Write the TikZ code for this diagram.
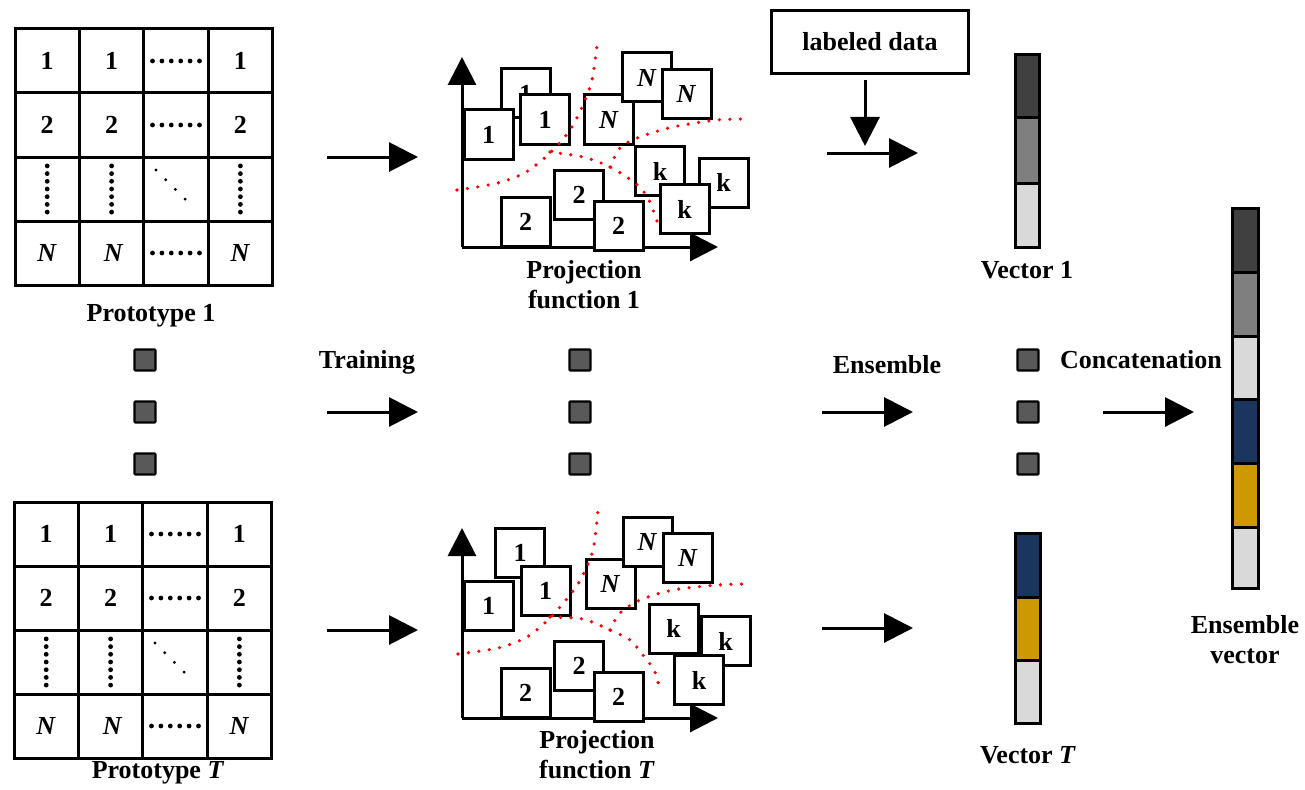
\documentclass[tikz,border=0pt]{standalone}
\usepackage{fontspec}
\setmainfont{Liberation Serif}
\usetikzlibrary{arrows.meta}
\definecolor{vdark}{HTML}{404040}
\definecolor{vmid}{HTML}{7F7F7F}
\definecolor{vlight}{HTML}{D9D9D9}
\definecolor{vnavy}{HTML}{1B365E}
\definecolor{vgold}{HTML}{CC9900}
\definecolor{sqgray}{HTML}{595959}
\definecolor{dotred}{HTML}{FF0000}
\tikzset{
  gridline/.style={line width=3pt},
  txt/.style={inner sep=0pt, align=center},
  pbox/.style={draw, fill=white, line width=3pt, minimum size=49pt, inner sep=0pt},
  sqbox/.style={draw, fill=sqgray, line width=2.2pt, minimum size=21pt, inner sep=0pt, rounded corners=1pt},
  arr/.style={line width=3pt, -{Triangle[length=29pt,width=29pt]}},
  axisarr/.style={line width=3pt, -{Triangle[length=28pt,width=28pt]}},
  reddots/.style={dotred, line width=3.6pt, line cap=round, dash pattern=on 0pt off 10.5pt},
  vseg/.style={draw, line width=3pt},
}
\newcommand\hdots[2]{\foreach \k in {-2.5,-1.5,-0.5,0.5,1.5,2.5} \fill (#1+\k*9.4,#2) circle (2.4pt);}
\newcommand\vdotsx[2]{\foreach \k in {-3,...,3} \fill (#1,#2+\k*7.7) circle (2.4pt);}
\newcommand\ddotsx[2]{\foreach \k in {0,1,2,3} \fill (#1-20+\k*9.7,#2-19+\k*9.7) circle (1.6pt);}
\newcommand\protogrid[3]{%
  \begin{scope}[shift={(#2,#3)}]
    \foreach \i in {1,2,3} {
      \draw[gridline] (\i*64.4,0) -- (\i*64.4,256);
      \draw[gridline] (0,\i*64) -- (257.6,\i*64);
    }
    \draw[gridline] (0,0) rectangle (257.6,256);
    \node[txt] (#1a1) at (32.2,32) {1};
    \node[txt] (#1a2) at (96.6,32) {1};
    \node[txt] (#1a4) at (225.4,32) {1};
    \node[txt] (#1b1) at (32.2,96) {2};
    \node[txt] (#1b2) at (96.6,96) {2};
    \node[txt] (#1b4) at (225.4,96) {2};
    \node[txt] (#1d1) at (32.2,224) {\textit{N}};
    \node[txt] (#1d2) at (98.6,224) {\textit{N}};
    \node[txt] (#1d4) at (225.4,224) {\textit{N}};
    \hdots{161}{32}
    \hdots{161}{96}
    \hdots{161}{224}
    \vdotsx{32.2}{160}
    \vdotsx{96.6}{160}
    \vdotsx{225.4}{160}
    \ddotsx{161}{160}
  \end{scope}}
\begin{document}
\begin{tikzpicture}[x=1pt,y=-1pt,font=\fontsize{26}{30}\selectfont\bfseries]
\useasboundingbox (0,0) rectangle (1305,789);

% ---------- prototype grids ----------
\protogrid{ga}{15}{29}
\protogrid{gb}{14}{502}
\node[txt] (proto1) at (151,316) {Prototype 1};
\node[txt] (protoT) at (158,773) {Prototype \textit{T}};

% ---------- middle squares ----------
\foreach \c/\x in {l/145,m/580,r/1028}
  \foreach \r/\y in {1/360,2/412,3/464}
    \node[sqbox] (sq\c\r) at (\x,\y) {};

% ---------- training arrows ----------
\coordinate (t1s) at (327,157); \coordinate (t1e) at (418,157);
\coordinate (t2s) at (327,412); \coordinate (t2e) at (418,412);
\coordinate (t3s) at (327,630); \coordinate (t3e) at (418,630);
\draw[arr] (t1s) -- (t1e);
\draw[arr] (t2s) -- (t2e);
\draw[arr] (t3s) -- (t3e);
\node[txt] (training) at (367,362) {Training};

% ---------- projection function 1 ----------
\coordinate (o1) at (462,247);
\coordinate (y1) at (462,57);
\coordinate (x1) at (718,247);
\draw[axisarr] (o1) -- (y1);
\draw[axisarr] (o1) -- (x1);
\node[pbox] (pa1back) at (525.5,93.5) {1};
\node[pbox] (pa1left) at (488.5,134.5) {1};
\node[pbox] (pa1mid) at (545,119.5) {1};
\node[pbox] (paNmid) at (609,119.5) {\textit{N}};
\node[pbox] (paNtop) at (647,77.5) {\textit{N}};
\node[pbox] (paNright) at (686.5,94) {\textit{N}};
\node[pbox] (paktop) at (660,171) {k};
\node[pbox] (pakright) at (723.5,182.5) {k};
\node[pbox] (pakbot) at (684.5,209) {k};
\node[pbox] (pa2left) at (525.5,222) {2};
\node[pbox] (pa2mid) at (579,194.5) {2};
\node[pbox] (pa2right) at (618.5,226) {2};
\draw[reddots] plot[smooth] coordinates {(457,190) (498,183) (526,172) (550,153) (570,130) (583,105) (592,80) (597,45)};
\draw[reddots] plot[smooth] coordinates {(550,152) (583,157) (610,167) (635,183) (648,198) (659,227)};
\draw[reddots] plot[smooth] coordinates {(610,167) (620,148) (637,138) (673,127) (717,120) (747,119)};
\node[txt] (proj1) at (584,284.5) {Projection\\function 1};

% ---------- projection function T ----------
\coordinate (o2) at (462,718);
\coordinate (y2) at (462,528);
\coordinate (x2) at (718,718);
\draw[axisarr] (o2) -- (y2);
\draw[axisarr] (o2) -- (x2);
\node[pbox] (pb1back) at (520,553) {1};
\node[pbox] (pb1left) at (488.5,606) {1};
\node[pbox] (pb1mid) at (545.5,591) {1};
\node[pbox] (pbNmid) at (610.5,583.5) {\textit{N}};
\node[pbox] (pbNtop) at (647.5,542) {\textit{N}};
\node[pbox] (pbNright) at (688,558) {\textit{N}};
\node[pbox] (pbkright) at (725.5,641) {k};
\node[pbox] (pbktop) at (673.5,628.5) {k};
\node[pbox] (pbkbot) at (699,680) {k};
\node[pbox] (pb2left) at (525.5,692.5) {2};
\node[pbox] (pb2mid) at (579,666) {2};
\node[pbox] (pb2right) at (618.5,696.5) {2};
\draw[reddots] plot[smooth] coordinates {(458,654) (498,648) (527,637) (550,618) (570,595) (582,577) (593,550) (598,510)};
\draw[reddots] plot[smooth] coordinates {(550,617) (583,619) (610,630) (630,640) (643,655) (655,672) (660,692)};
\draw[reddots] plot[smooth] coordinates {(610,630) (620,613) (640,600) (673,590) (717,585) (748,584)};
\node[txt] (projT) at (597,755) {Projection\\function \textit{T}};

% ---------- labeled data ----------
\node[draw, line width=2.5pt, minimum width=197pt, minimum height=63pt, inner sep=0pt] (labeled) at (870,42) {labeled data};
\coordinate (lds) at (865,80); \coordinate (lde) at (865,146);
\draw[arr] (lds) -- (lde);
\coordinate (e1s) at (827,153); \coordinate (e1e) at (918,153);
\draw[arr] (e1s) -- (e1e);

% ---------- ensemble arrows ----------
\coordinate (e2s) at (822,412); \coordinate (e2e) at (913,412);
\coordinate (e3s) at (822,628); \coordinate (e3e) at (913,628);
\draw[arr] (e2s) -- (e2e);
\draw[arr] (e3s) -- (e3e);
\node[txt] (ensemble) at (887,365) {Ensemble};

% ---------- vectors ----------
\draw[vseg, fill=vdark]  (1015,55)  rectangle (1039,118);
\draw[vseg, fill=vmid]   (1015,118) rectangle (1039,183);
\draw[vseg, fill=vlight] (1015,183) rectangle (1039,247);
\node[txt] (vec1) at (1027,270) {Vector 1};

\draw[vseg, fill=vnavy]  (1015,533) rectangle (1040,597);
\draw[vseg, fill=vgold]  (1015,597) rectangle (1040,660);
\draw[vseg, fill=vlight] (1015,660) rectangle (1040,723);
\node[txt] (vecT) at (1028,755) {Vector \textit{T}};

% ---------- concatenation ----------
\coordinate (c1s) at (1103,412); \coordinate (c1e) at (1194,412);
\draw[arr] (c1s) -- (c1e);
\node[txt] (concat) at (1141,360) {Concatenation};

\draw[vseg, fill=vdark]  (1232,208) rectangle (1258,272);
\draw[vseg, fill=vmid]   (1232,272) rectangle (1258,336);
\draw[vseg, fill=vlight] (1232,336) rectangle (1258,399);
\draw[vseg, fill=vnavy]  (1232,399) rectangle (1258,463);
\draw[vseg, fill=vgold]  (1232,463) rectangle (1258,527);
\draw[vseg, fill=vlight] (1232,527) rectangle (1258,588);
\node[txt] (ensvec) at (1245,640) {Ensemble\\vector};
\end{tikzpicture}
\end{document}
